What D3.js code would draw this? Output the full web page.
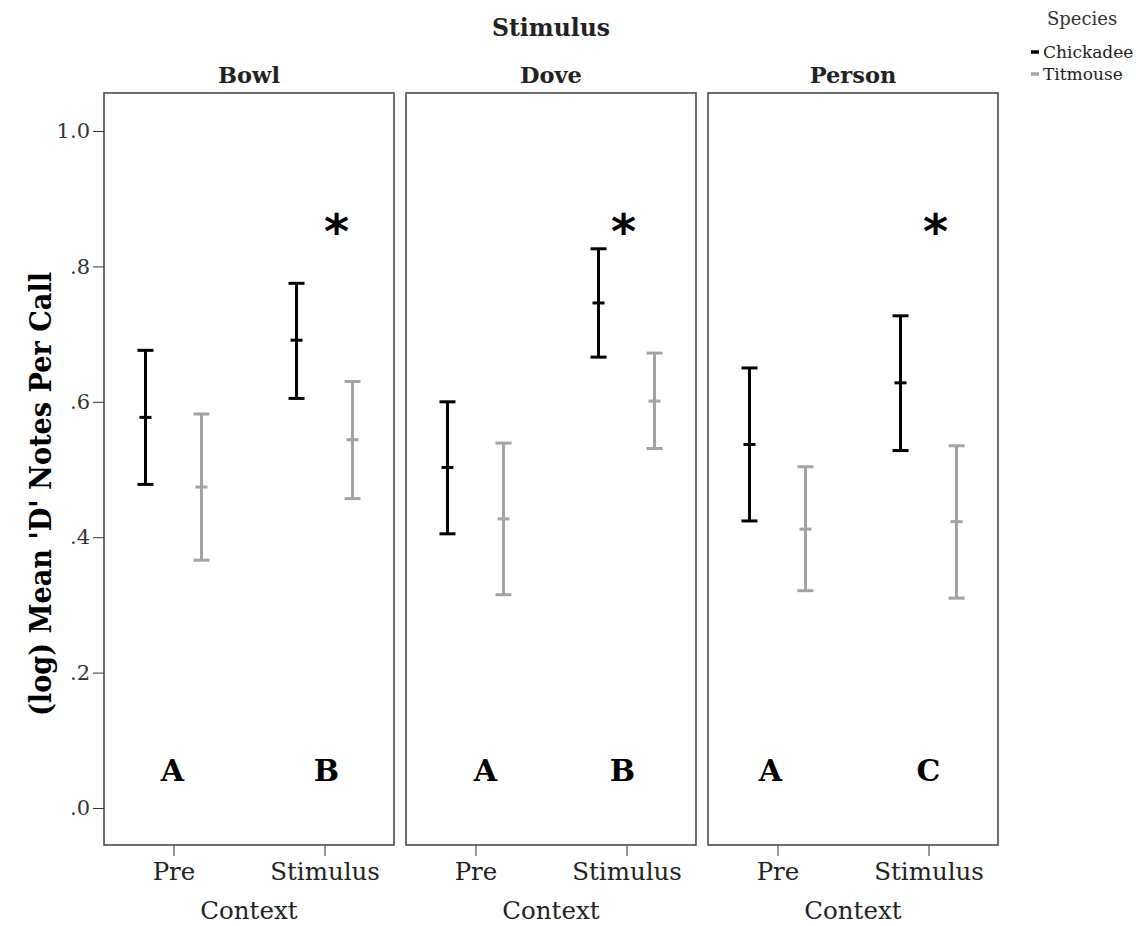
<!DOCTYPE html>
<html>
<head>
<meta charset="utf-8">
<script src="https://cdn.jsdelivr.net/npm/d3@7"></script>
<style>
  html, body { margin: 0; padding: 0; background: #fff; }
  svg { display: block; }
</style>
</head>
<body>
<svg id="chart" width="1141" height="926"></svg>
<script>
// Panels, categories and series
const stimuli = ["Bowl", "Dove", "Person"];
const contexts = ["Pre", "Stimulus"];
const species = ["Chickadee", "Titmouse"];

// Values ordered Bowl-Pre, Bowl-Stimulus, Dove-Pre, Dove-Stimulus, Person-Pre, Person-Stimulus
const chickadeeMean = [0.577, 0.691, 0.503, 0.746, 0.537, 0.628];
const chickadeeLow  = [0.478, 0.605, 0.405, 0.666, 0.424, 0.528];
const chickadeeHigh = [0.676, 0.775, 0.600, 0.826, 0.650, 0.727];

const titmouseMean = [0.474, 0.544, 0.427, 0.601, 0.412, 0.423];
const titmouseLow  = [0.366, 0.457, 0.315, 0.531, 0.321, 0.310];
const titmouseHigh = [0.582, 0.630, 0.539, 0.672, 0.504, 0.535];

// Post-hoc group letters and significance marks per context cell
const groupLetters = ["A", "B", "A", "B", "A", "C"];
const significant  = [false, true, false, true, false, true];

const yTickValues = [0, 0.2, 0.4, 0.6, 0.8, 1.0];
const yTickLabels = [".0", ".2", ".4", ".6", ".8", "1.0"];

// Assemble long-format rows
const seriesTable = {
  Chickadee: { mean: chickadeeMean, low: chickadeeLow, high: chickadeeHigh },
  Titmouse:  { mean: titmouseMean,  low: titmouseLow,  high: titmouseHigh }
};
const rows = [];
stimuli.forEach((s, si) => contexts.forEach((c, ci) => species.forEach(sp => {
  const i = si * contexts.length + ci;
  rows.push({ stimulus: s, context: c, species: sp,
              mean: seriesTable[sp].mean[i], low: seriesTable[sp].low[i], high: seriesTable[sp].high[i] });
})));

// ---- layout ----
const svg = d3.select("#chart");
const frameTop = 93, frameBottom = 845;
const serif = "'DejaVu Serif', serif";

const color = d3.scaleOrdinal().domain(species).range(["#000000", "#a3a3a3"]);

const y = d3.scaleLinear().domain([0, 1]).range([808, 131]);
const xPanel = d3.scaleBand().domain(stimuli).range([104, 998]).paddingInner(12 / 302);
const xCtx = d3.scalePoint().domain(contexts).range([0, xPanel.bandwidth()]).padding(0.46);
const xDodge = d3.scalePoint().domain(species).range([-28, 28]);

// small horizontal nudges for the in-panel annotations
const letterNudge = [-1, 2, 10, -4, -7, 0];
const starNudge = [0, 12, 0, -3, 0, 7];

// Top title
svg.append("text")
  .attr("x", xPanel("Dove") + xPanel.bandwidth() / 2).attr("y", 36)
  .attr("text-anchor", "middle")
  .style("font-family", serif).style("font-size", "23.5px").style("font-weight", "bold")
  .attr("fill", "#222").text("Stimulus");

stimuli.forEach((s, si) => {
  const g = svg.append("g").attr("transform", `translate(${xPanel(s)},0)`);
  const bw = xPanel.bandwidth();

  // panel title
  g.append("text")
    .attr("x", bw / 2).attr("y", 83).attr("text-anchor", "middle")
    .style("font-family", serif).style("font-size", "22.5px").style("font-weight", "bold")
    .attr("fill", "#222").text(s);

  // frame
  g.append("rect")
    .attr("x", 0).attr("y", frameTop).attr("width", bw).attr("height", frameBottom - frameTop)
    .attr("fill", "none").attr("stroke", "#4a4a4a").attr("stroke-width", 1.6);

  // x axis
  const xa = g.append("g").attr("transform", `translate(0,${frameBottom})`)
    .call(d3.axisBottom(xCtx).tickSize(11).tickPadding(7));
  xa.select(".domain").remove();
  xa.selectAll(".tick line").attr("stroke", "#333");
  xa.selectAll(".tick text")
    .style("font-family", serif).style("font-size", "24.5px").attr("fill", "#222");

  g.append("text")
    .attr("x", bw / 2).attr("y", 919).attr("text-anchor", "middle")
    .style("font-family", serif).style("font-size", "24.5px")
    .attr("fill", "#222").text("Context");

  // error bars
  const cell = rows.filter(r => r.stimulus === s);
  const bars = g.selectAll("g.bar").data(cell).join("g").attr("class", "bar")
    .attr("transform", d => `translate(${xCtx(d.context) + xDodge(d.species)},0)`)
    .attr("stroke", d => color(d.species)).attr("stroke-width", 3);
  bars.append("line").attr("y1", d => y(d.low)).attr("y2", d => y(d.high));
  bars.append("line").attr("x1", -8).attr("x2", 8).attr("y1", d => y(d.high)).attr("y2", d => y(d.high));
  bars.append("line").attr("x1", -8).attr("x2", 8).attr("y1", d => y(d.low)).attr("y2", d => y(d.low));
  bars.append("line").attr("x1", -6).attr("x2", 6).attr("y1", d => y(d.mean)).attr("y2", d => y(d.mean));

  // group letters and significance stars
  contexts.forEach((c, ci) => {
    const i = si * contexts.length + ci;
    g.append("text")
      .attr("x", xCtx(c) + letterNudge[i]).attr("y", 781).attr("text-anchor", "middle")
      .style("font-family", serif).style("font-size", "30px").style("font-weight", "bold")
      .attr("fill", "#000").text(groupLetters[i]);
    if (significant[i]) {
      g.append("text")
        .attr("x", xCtx(c) + starNudge[i]).attr("y", 248).attr("text-anchor", "middle")
        .style("font-family", "'DejaVu Sans', sans-serif").style("font-size", "48px").style("font-weight", "bold")
        .attr("fill", "#000").text("*");
    }
  });
});

// y axis on the first panel
const ya = svg.append("g").attr("transform", `translate(${xPanel(stimuli[0])},0)`)
  .call(d3.axisLeft(y).tickValues(yTickValues).tickSize(11).tickPadding(3)
        .tickFormat((d, i) => yTickLabels[i]));
ya.select(".domain").remove();
ya.selectAll(".tick line").attr("stroke", "#333");
ya.selectAll(".tick text")
  .style("font-family", serif).style("font-size", "21px").attr("fill", "#333");

// y axis title
svg.append("text")
  .attr("transform", `translate(51,494) rotate(-90)`)
  .attr("text-anchor", "middle")
  .attr("textLength", 444).attr("lengthAdjust", "spacingAndGlyphs")
  .style("font-family", serif).style("font-size", "30px").style("font-weight", "bold")
  .attr("fill", "#000").text("(log) Mean 'D' Notes Per Call");

// legend
const lg = svg.append("g");
lg.append("text").attr("x", 1047).attr("y", 25)
  .style("font-family", serif).style("font-size", "18px").attr("fill", "#333").text("Species");
species.forEach((sp, i) => {
  const yy = 52 + i * 22;
  lg.append("line").attr("x1", 1031).attr("x2", 1039).attr("y1", yy).attr("y2", yy)
    .attr("stroke", color(sp)).attr("stroke-width", 3.5);
  lg.append("text").attr("x", 1043).attr("y", yy + 6)
    .style("font-family", serif).style("font-size", "17px").attr("fill", "#222").text(sp);
});
</script>
</body>
</html>
